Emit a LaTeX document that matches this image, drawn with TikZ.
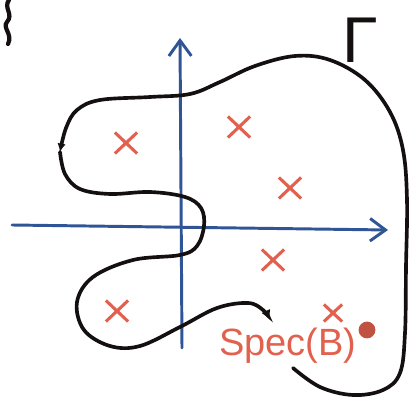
\documentclass[tikz,border=0pt]{standalone}
\usepackage{fontspec}
\usetikzlibrary{arrows.meta,shapes.misc}
\newfontfamily\handfont{Liberation Sans}
\definecolor{axblue}{HTML}{2F5597}
\definecolor{eigred}{HTML}{E2604E}
\definecolor{inkblack}{HTML}{151010}

\begin{document}
\begin{tikzpicture}[
  x=0.025cm, y=-0.025cm,
  axis/.style={axblue, line width=2.1pt, line cap=round,
               -{Straight Barb[length=11pt, width=16pt, line width=2.1pt]}},
  contour/.style={inkblack, line width=2.6pt, line cap=round},
  eig/.style={cross out, draw=eigred, line width=2.2pt,
              minimum width=0.48cm, minimum height=0.45cm, inner sep=0pt},
  lbl/.style={eigred, font=\handfont\fontsize{27}{29}\selectfont, inner sep=0pt},
]
  \useasboundingbox (0,0) rectangle (414,398);

  %% Ejes
  \coordinate (xl) at (12,225);
  \coordinate (xr) at (388,230);
  \coordinate (yb) at (182,348);
  \coordinate (yt) at (180,38);
  \draw[axis] (xl) -- (xr);
  \draw[axis] (yb) -- (yt);

  %% Contorno, en sentido antihorario
  \draw[contour, -{Latex[length=6pt, width=6pt]}] plot[smooth, tension=0.6] coordinates {
    (293,368) (320,387) (353,395) (383,390) (400,373) (405,333) (406,267)
    (407,200) (403,150) (390,112) (365,80) (330,60) (295,56) (255,66)
    (220,82) (190,94) (150,97) (100,100) (77,110) (66,128) (60,152)};
  \draw[contour, -{Latex[length=7pt, width=7pt]}] plot[smooth, tension=0.6] coordinates {
    (60,152) (65,174) (80,189) (110,194) (150,192) (185,197) (201,208)
    (204,226) (197,246) (180,255) (133,260) (93,277) (77,302) (84,330)
    (110,346) (140,346) (180,327) (217,308) (248,303) (263,310) (270,320)};

  %% Espectro
  \node[eig] (e1) at (126,143) {};
  \node[eig] (e2) at (239,127) {};
  \node[eig] (e3) at (290,188) {};
  \node[eig] (e4) at (273,260) {};
  \node[eig] (e5) at (117,311) {};
  \node[eig, minimum width=0.38cm, minimum height=0.35cm] (e6) at (333,313) {};
  \node[lbl] (spec) at (288,346) {Spec(B)};
  \node[circle, fill=eigred!85!black, minimum size=0.42cm, inner sep=0pt] (dot) at (367,330) {};

  %% Nombre del contorno
  \node[inkblack, font=\handfont\fontsize{46}{48}\selectfont, inner sep=0pt] (gamma) at (360,40) {Γ};

  %% Trazo suelto arriba a la izquierda
  \draw[inkblack, line width=3pt, line cap=round]
    (9,0) .. controls (3,8) and (14,14) .. (7,22) .. controls (2,28) and (13,34) .. (8,44);
\end{tikzpicture}
\end{document}
